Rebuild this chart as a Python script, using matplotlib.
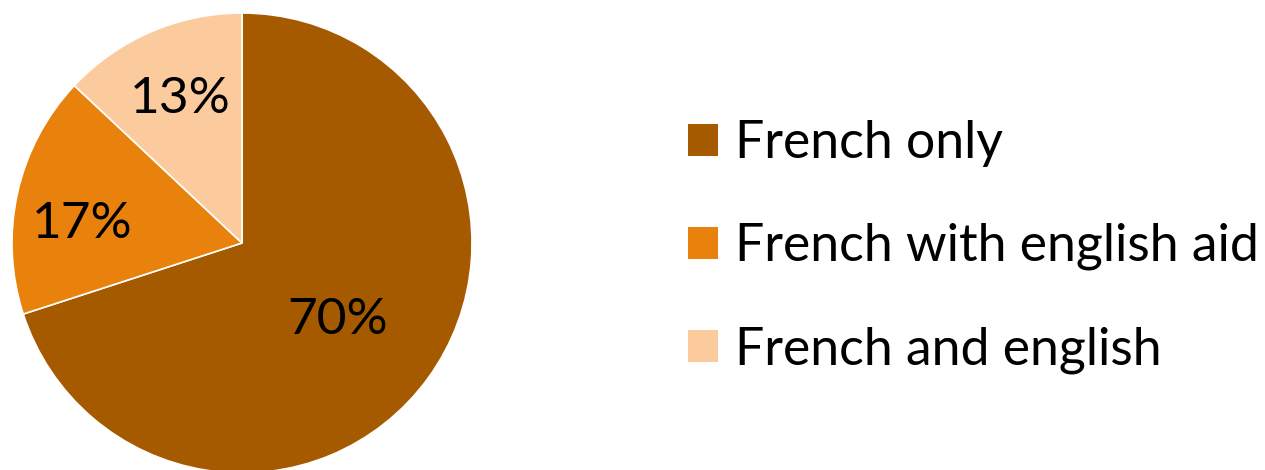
import numpy as np
import matplotlib
matplotlib.use("Agg")
import matplotlib.pyplot as plt
from matplotlib.patches import Patch

# language used in class
categories = ["French only", "French with english aid", "French and english"]
shares = [70, 17, 13]
colors = ["#A65A00", "#E8820C", "#FBCB9E"]

# label placement tweaks (fraction of radius, degrees)
label_dist = [0.53, 0.70, 0.69]
label_turn = [-2.0, 5.0, -0.5]

plt.rcParams["font.family"] = ["Lato", "DejaVu Sans"]

fig = plt.figure(figsize=(12.65, 4.70), dpi=100)
W, H = 1265, 470
cx, cy, r = 242, 470 - 243, 230
ax = fig.add_axes([(cx - r) / W, (cy - r) / H, 2 * r / W, 2 * r / H])

wedges, _ = ax.pie(shares, colors=colors, startangle=90, counterclock=False,
                   wedgeprops=dict(edgecolor="white", linewidth=1.2))
ax.set_xlim(-1, 1)
ax.set_ylim(-1, 1)
ax.set_aspect("equal")
ax.axis("off")

for w, v, d, t in zip(wedges, shares, label_dist, label_turn):
    mid = np.deg2rad((w.theta1 + w.theta2) / 2 + t)
    ax.text(d * np.cos(mid), d * np.sin(mid) - 0.01, f"{v}%", ha="center", va="center",
            fontsize=37, color="black")

handles = [Patch(facecolor=c, edgecolor="none") for c in colors]
fig.legend(handles, categories, loc="upper left", bbox_to_anchor=(688 / W, 1 - 120 / H),
           frameon=False, fontsize=37.3, handlelength=0.58, handleheight=0.58,
           handletextpad=0.32, labelspacing=1.08, borderaxespad=0, borderpad=0)

fig.savefig("out.png", dpi=100)
